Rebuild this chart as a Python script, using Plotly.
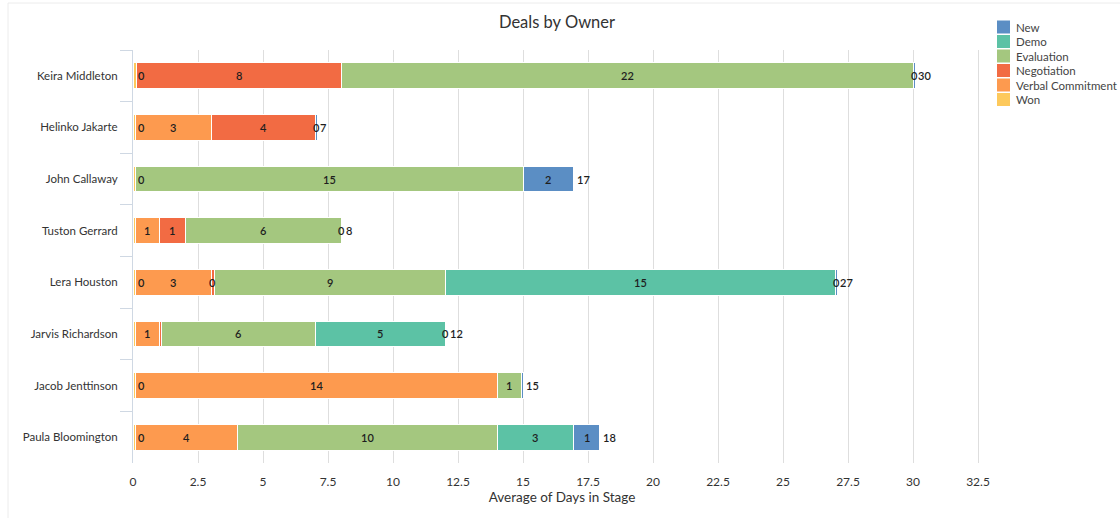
import plotly.graph_objects as go

owners = ["Keira Middleton", "Helinko Jakarte", "John Callaway", "Tuston Gerrard",
          "Lera Houston", "Jarvis Richardson", "Jacob Jenttinson", "Paula Bloomington"]

stages = ["Won", "Verbal Commitment", "Negotiation", "Evaluation", "Demo", "New"]

won          = [0.12, 0.10, 0.10, 0.10, 0.10, 0.10, 0.10, 0.10]
verbal       = [None, 2.90, None, 0.90, 2.90, 0.90, 13.90, 3.90]
negotiation  = [7.88, 4.00, None, 1.00, 0.12, 0.10, None, None]
evaluation   = [22.00, None, 14.90, 6.00, 8.90, 5.90, 0.95, 10.00]
demo         = [None, None, None, None, 15.00, 5.00, None, 2.96]
new          = [0.08, 0.08, 1.96, 0.06, 0.06, 0.06, 0.06, 1.00]

series = [won, verbal, negotiation, evaluation, demo, new]
colors = ["#fdc95c", "#fd9a4f", "#f26b43", "#a4c77f", "#5cc2a5", "#5b8ec4"]

FONT = "Lato, 'Open Sans', sans-serif"
TEXT = "#333333"

W, H = 1120, 518
ML, MR, MT, MB = 133, 129, 50, 55
PW, PH = W - ML - MR, H - MT - MB
XMAX = 33
PXU = PW / XMAX


def px_x(p):
    return (p - ML) / PW


def px_y(p):
    return (H - MB - p) / PH


fig = go.Figure()
for name, vals, col in zip(stages, series, colors):
    fig.add_trace(go.Bar(
        y=owners, x=vals, name=name, orientation="h",
        marker=dict(color=col, line=dict(color="white", width=1)),
        width=0.5, hoverinfo="x+name", showlegend=False,
    ))

LABEL_FONT = dict(family=FONT, size=11, color="#1e1e1e", weight=600)

annotations = []
for i, owner in enumerate(owners):
    cum = 0.0
    labels = []
    for vals in series:
        v = vals[i]
        if v is None:
            continue
        start = cum
        cum += v
        if v >= 0.5:
            pos, shift = start + v / 2, 0
        elif start < 0.01:
            pos, shift = start, 8
        else:
            pos, shift = start + v / 2, 0
        labels.append(dict(val=v, pos=pos, shift=shift))
    accepted = []
    for lab in sorted(labels, key=lambda d: -d["val"]):
        p = lab["pos"] * PXU + lab["shift"]
        if all(abs(p - (a["pos"] * PXU + a["shift"])) > 15 for a in accepted):
            accepted.append(lab)
    for lab in accepted:
        annotations.append(dict(
            x=lab["pos"], y=owner, xref="x", yref="y", text=str(round(lab["val"])),
            showarrow=False, xshift=lab["shift"], font=LABEL_FONT,
        ))
    annotations.append(dict(
        x=cum, y=owner, xref="x", yref="y", text=str(round(cum)),
        showarrow=False, xanchor="left", xshift=1, font=LABEL_FONT,
    ))

# Hand-drawn legend (top to bottom: New ... Won)
shapes = []
LEG_X, LEG_Y0, LEG_DY, SW = 997, 27, 14.5, 13
for k, (name, col) in enumerate(zip(stages[::-1], colors[::-1])):
    cy = LEG_Y0 + k * LEG_DY
    shapes.append(dict(type="rect", xref="paper", yref="paper",
                       x0=px_x(LEG_X), x1=px_x(LEG_X + SW),
                       y0=px_y(cy + SW / 2), y1=px_y(cy - SW / 2),
                       fillcolor=col, line=dict(width=0)))
    annotations.append(dict(x=px_x(LEG_X + SW + 4), y=px_y(cy), xref="paper", yref="paper",
                            text=name, showarrow=False, xanchor="left", yanchor="middle",
                            font=dict(family=FONT, size=11.5, color="#444444")))

# card border (top and left edges)
shapes += [
    dict(type="line", xref="paper", yref="paper",
         x0=px_x(8), x1=px_x(W), y0=px_y(3), y1=px_y(3),
         line=dict(color="#ececec", width=1)),
    dict(type="line", xref="paper", yref="paper",
         x0=px_x(8), x1=px_x(8), y0=px_y(3), y1=px_y(H),
         line=dict(color="#ececec", width=1)),
]

fig.update_layout(
    barmode="stack",
    width=W, height=H,
    margin=dict(l=ML, r=MR, t=MT, b=MB, autoexpand=False),
    paper_bgcolor="white", plot_bgcolor="white",
    font=dict(family=FONT, size=12, color=TEXT),
    title=dict(text="Deals by Owner", x=px_x(557), xref="paper", xanchor="center",
               y=1 - 22 / H, yanchor="middle",
               font=dict(family=FONT, size=16.5, color=TEXT)),
    showlegend=False,
    annotations=annotations,
    shapes=shapes,
)

fig.update_xaxes(
    range=[0, XMAX], tick0=0, dtick=2.5, showgrid=True, gridcolor="#dedede",
    gridwidth=1, zeroline=False, showline=False,
    ticks="outside", ticklen=8, tickcolor="rgba(0,0,0,0)",
    tickfont=dict(family=FONT, size=12, color=TEXT),
    title=dict(text="Average of Days in Stage", standoff=4,
               font=dict(family=FONT, size=13.5, color=TEXT)),
)
fig.update_yaxes(
    autorange="reversed", showgrid=False, zeroline=False,
    showline=True, linecolor="#cfd8e3", linewidth=1,
    ticks="outside", tickson="boundaries", ticklen=12, tickcolor="#cfd8e3",
    ticklabelstandoff=12,
    tickfont=dict(family=FONT, size=11.5, color=TEXT),
)

fig.write_html("out.html")
